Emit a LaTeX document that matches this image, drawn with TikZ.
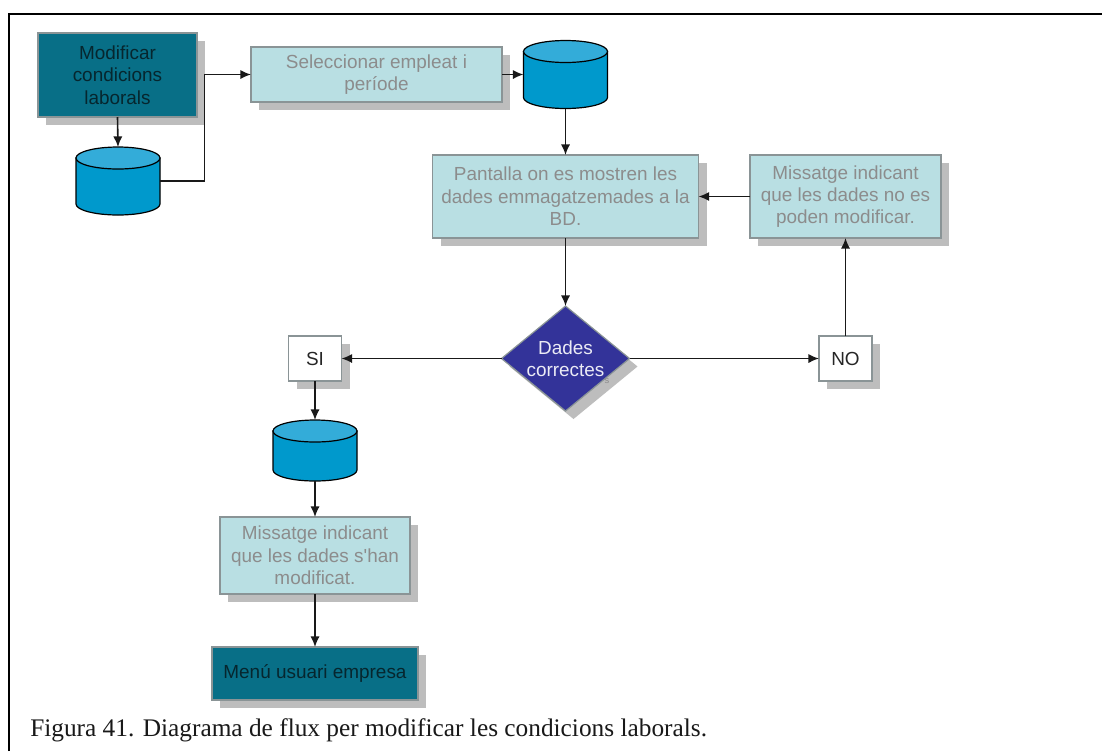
\documentclass[tikz,border=0pt]{standalone}
\usepackage{fontspec}
\newfontfamily\labelfont{Liberation Sans}
\newfontfamily\capfont{Liberation Serif}
\usetikzlibrary{arrows.meta,shapes.geometric,shadows}
\definecolor{teal1}{HTML}{086F87}
\definecolor{pale}{HTML}{B9DFE3}
\definecolor{edgeg}{HTML}{8A9496}
\definecolor{shad}{HTML}{BDBDBD}
\definecolor{navy1}{HTML}{333399}
\definecolor{cylb}{HTML}{0099CC}
\definecolor{cyltop}{HTML}{33ACD9}
\definecolor{graytxt}{HTML}{8C8C8C}
\definecolor{darktxt}{HTML}{06262E}
\tikzset{
 x=0.75pt,y=-0.75pt,
 sz/.style 2 args={minimum width=#1*0.75pt,minimum height=#2*0.75pt},
 boxbase/.style={rectangle,draw=edgeg,line width=0.9pt,inner sep=0pt,outer sep=0pt,align=center,
   font=\labelfont\fontsize{14.2}{16.8}\selectfont,
   drop shadow={shadow xshift=6pt,shadow yshift=-6pt,fill=shad,opacity=1}},
 darkbox/.style={boxbase,fill=teal1,text=darktxt},
 palebox/.style={boxbase,fill=pale,text=graytxt},
 whitebox/.style={boxbase,fill=white,text=black!85},
 decision/.style={boxbase,diamond,shape aspect=1.22,draw=edgeg,fill=navy1,text=white!90!navy1},
 dbcyl/.style={rectangle,inner sep=0pt,outer sep=0pt},
 dbbody/.style={fill=cylb,draw=black,line width=0.9pt},
 dbtop/.style={fill=cyltop,draw=black,line width=0.9pt},
 conn/.style={draw=black!90,line width=1.2pt,-{Latex[length=8pt,width=7pt]}},
}
\newcommand{\dbdraw}[1]{%
  \draw[dbbody] ([yshift=-8.25pt]#1.north west) -- ([yshift=8.25pt]#1.south west)
    arc[start angle=180,end angle=360,x radius=31.5pt,y radius=8.25pt]
    -- ([yshift=-8.25pt]#1.north east) -- cycle;
  \draw[dbtop] ([yshift=-8.25pt]#1.north) ellipse[x radius=31.5pt,y radius=8.25pt];
}
\begin{document}
\begin{tikzpicture}
\useasboundingbox (0,0) rectangle (1102,751);
\fill[white] (0,0) rectangle (1102,751);
\draw[black,line width=1.5pt] (8.5,751) -- (8.5,13.5) -- (1102,13.5);
% nodes
\node[darkbox,sz={159}{84}] (start) at (117.5,75) {Modificar\\condicions\\laborals};
\node[dbcyl,sz={84}{68}] (c1) at (118,181) {};
\dbdraw{c1}
\node[palebox,sz={251}{55}] (sel) at (376.5,74.5) {Seleccionar empleat i\\període};
\node[dbcyl,sz={84}{68}] (c2) at (565.5,74.5) {};
\dbdraw{c2}
\node[palebox,sz={266}{83}] (pant) at (565.5,196.5) {Pantalla on es mostren les\\dades emmagatzemades a la\\BD.};
\node[palebox,sz={191}{83}] (nomod) at (845.5,196.5) {Missatge indicant\\que les dades no es\\poden modificar.};
\node[decision,sz={128}{105}] (dec) at (565.5,358.5) {Dades\\correctes};
\node[font=\labelfont\fontsize{7}{8}\selectfont,text=graytxt,inner sep=0pt] (ghost) at (607,381) {s};
\node[whitebox,sz={53}{45}] (si) at (315,358.5) {SI};
\node[whitebox,sz={53}{45}] (no) at (845.5,358.5) {NO};
\node[dbcyl,sz={84}{61}] (c3) at (315,450.5) {};
\dbdraw{c3}
\node[palebox,sz={190}{77}] (mod) at (315,555.5) {Missatge indicant\\que les dades s'han\\modificat.};
\node[darkbox,sz={206}{53}] (menu) at (315,673.5) {Menú usuari empresa};
\node[anchor=base west,inner sep=0pt,font=\capfont\fontsize{19}{22}\selectfont,text=black!90] (cap) at (30,736) {Figura 41. Diagrama de flux per modificar les condicions laborals.};
% connectors
\coordinate (j1) at (204.5,128);
\draw[conn] (start.south) -- (c1.north);
\draw[conn] (c1.east) -- (j1 |- c1.east) -- (j1 |- sel.west) -- (sel.west);
\draw[conn] (sel.east) -- (c2.west);
\draw[conn] (c2.south) -- (pant.north);
\draw[conn] (nomod.west) -- (pant.east);
\draw[conn] (pant.south) -- (dec.north);
\draw[conn] (dec.west) -- (si.east);
\draw[conn] (dec.east) -- (no.west);
\draw[conn] (no.north) -- (nomod.south);
\draw[conn] (si.south) -- (c3.north);
\draw[conn] (c3.south) -- (mod.north);
\draw[conn] (mod.south) -- (menu.north);
\end{tikzpicture}
\end{document}
